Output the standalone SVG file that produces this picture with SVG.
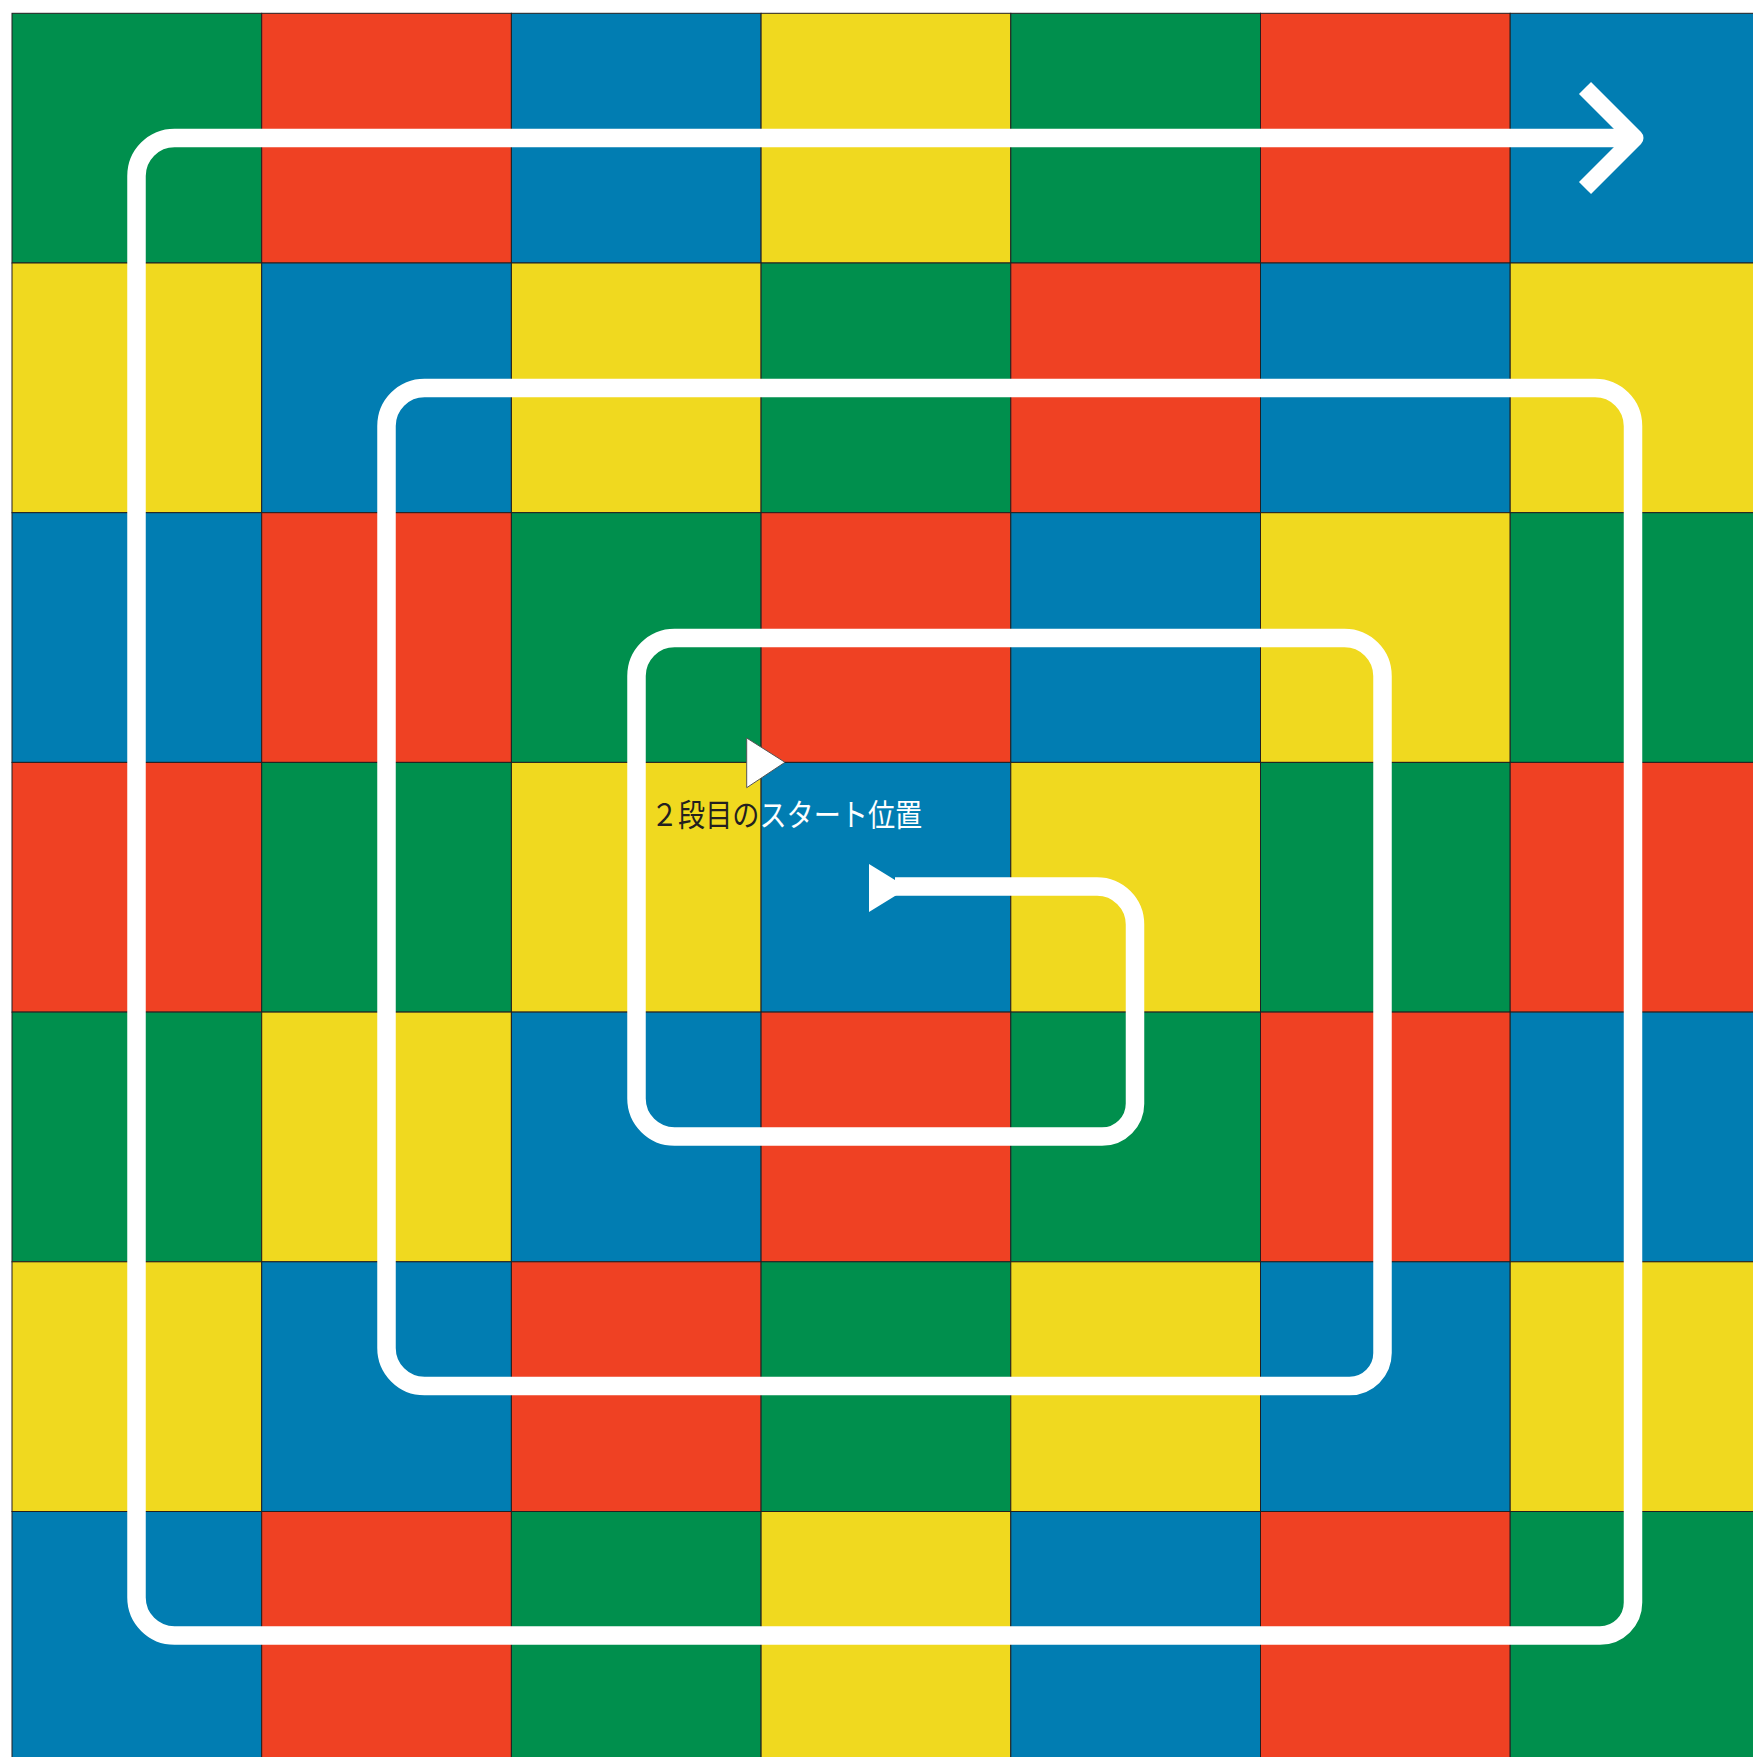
<svg xmlns="http://www.w3.org/2000/svg" width="1753" height="1757" viewBox="0 0 1753 1757">
<style>
.c{stroke:#231F20;stroke-width:1}
.g{fill:#008F4D}.r{fill:#EF4123}.b{fill:#017DB2}.y{fill:#F0D91F}
.path{fill:none;stroke:#FFFFFF;stroke-width:18.5;stroke-linecap:butt;stroke-linejoin:round}
.lbl{font-family:"Noto Sans CJK JP","Noto Sans",sans-serif;font-size:31px}
</style>
<rect x="0" y="0" width="1753" height="1757" fill="#FFFFFF"/>
<g id="board">
<rect class="c g" x="12" y="13.3" width="249.7" height="249.7"/>
<rect class="c r" x="261.7" y="13.3" width="249.7" height="249.7"/>
<rect class="c b" x="511.4" y="13.3" width="249.7" height="249.7"/>
<rect class="c y" x="761.1" y="13.3" width="249.7" height="249.7"/>
<rect class="c g" x="1010.8" y="13.3" width="249.7" height="249.7"/>
<rect class="c r" x="1260.5" y="13.3" width="249.7" height="249.7"/>
<rect class="c b" x="1510.2" y="13.3" width="249.7" height="249.7"/>

<rect class="c y" x="12" y="263" width="249.7" height="249.7"/>
<rect class="c b" x="261.7" y="263" width="249.7" height="249.7"/>
<rect class="c y" x="511.4" y="263" width="249.7" height="249.7"/>
<rect class="c g" x="761.1" y="263" width="249.7" height="249.7"/>
<rect class="c r" x="1010.8" y="263" width="249.7" height="249.7"/>
<rect class="c b" x="1260.5" y="263" width="249.7" height="249.7"/>
<rect class="c y" x="1510.2" y="263" width="249.7" height="249.7"/>

<rect class="c b" x="12" y="512.7" width="249.7" height="249.7"/>
<rect class="c r" x="261.7" y="512.7" width="249.7" height="249.7"/>
<rect class="c g" x="511.4" y="512.7" width="249.7" height="249.7"/>
<rect class="c r" x="761.1" y="512.7" width="249.7" height="249.7"/>
<rect class="c b" x="1010.8" y="512.7" width="249.7" height="249.7"/>
<rect class="c y" x="1260.5" y="512.7" width="249.7" height="249.7"/>
<rect class="c g" x="1510.2" y="512.7" width="249.7" height="249.7"/>

<rect class="c r" x="12" y="762.4" width="249.7" height="249.7"/>
<rect class="c g" x="261.7" y="762.4" width="249.7" height="249.7"/>
<rect class="c y" x="511.4" y="762.4" width="249.7" height="249.7"/>
<rect class="c b" x="761.1" y="762.4" width="249.7" height="249.7"/>
<rect class="c y" x="1010.8" y="762.4" width="249.7" height="249.7"/>
<rect class="c g" x="1260.5" y="762.4" width="249.7" height="249.7"/>
<rect class="c r" x="1510.2" y="762.4" width="249.7" height="249.7"/>

<rect class="c g" x="12" y="1012.1" width="249.7" height="249.7"/>
<rect class="c y" x="261.7" y="1012.1" width="249.7" height="249.7"/>
<rect class="c b" x="511.4" y="1012.1" width="249.7" height="249.7"/>
<rect class="c r" x="761.1" y="1012.1" width="249.7" height="249.7"/>
<rect class="c g" x="1010.8" y="1012.1" width="249.7" height="249.7"/>
<rect class="c r" x="1260.5" y="1012.1" width="249.7" height="249.7"/>
<rect class="c b" x="1510.2" y="1012.1" width="249.7" height="249.7"/>

<rect class="c y" x="12" y="1261.8" width="249.7" height="249.7"/>
<rect class="c b" x="261.7" y="1261.8" width="249.7" height="249.7"/>
<rect class="c r" x="511.4" y="1261.8" width="249.7" height="249.7"/>
<rect class="c g" x="761.1" y="1261.8" width="249.7" height="249.7"/>
<rect class="c y" x="1010.8" y="1261.8" width="249.7" height="249.7"/>
<rect class="c b" x="1260.5" y="1261.8" width="249.7" height="249.7"/>
<rect class="c y" x="1510.2" y="1261.8" width="249.7" height="249.7"/>

<rect class="c b" x="12" y="1511.5" width="249.7" height="249.7"/>
<rect class="c r" x="261.7" y="1511.5" width="249.7" height="249.7"/>
<rect class="c g" x="511.4" y="1511.5" width="249.7" height="249.7"/>
<rect class="c y" x="761.1" y="1511.5" width="249.7" height="249.7"/>
<rect class="c b" x="1010.8" y="1511.5" width="249.7" height="249.7"/>
<rect class="c r" x="1260.5" y="1511.5" width="249.7" height="249.7"/>
<rect class="c g" x="1510.2" y="1511.5" width="249.7" height="249.7"/>
</g>
<g id="connectors">
<path class="path" d="M 895 886.5 H 1097 A 38 38 0 0 1 1135 924.5 V 1103 A 33 33 0 0 1 1102 1136.5 H 674.5 A 38 38 0 0 1 636.5 1098.5 V 676 A 38 38 0 0 1 674.5 638 H 1344.5 A 38 38 0 0 1 1382.5 676 V 1353 A 33 33 0 0 1 1349.5 1386 H 424.5 A 38 38 0 0 1 386.5 1348 V 426 A 38 38 0 0 1 424.5 388 H 1595 A 38 38 0 0 1 1633 426 V 1602.5 A 33 33 0 0 1 1600 1635.5 H 174.5 A 38 38 0 0 1 136.5 1597.5 V 176 A 38 38 0 0 1 174.5 138 H 1630"/>
<path class="path" style="stroke-width:17" d="M 1585 88 L 1635 138 L 1585 188"/>
<polygon points="869,864 908,888 869,912" fill="#FFFFFF"/>
</g>
<g id="start-marker">
<polygon points="746.7,738 785,762.3 746.7,787.7" fill="#FFFFFF" stroke="#555555" stroke-width="1"/>
<text class="lbl" transform="translate(651,826) scale(0.875,1)" x="0" y="0"><tspan fill="#231F20">２段目の</tspan><tspan fill="#FFFFFF">スタート位置</tspan></text>
</g>
</svg>
